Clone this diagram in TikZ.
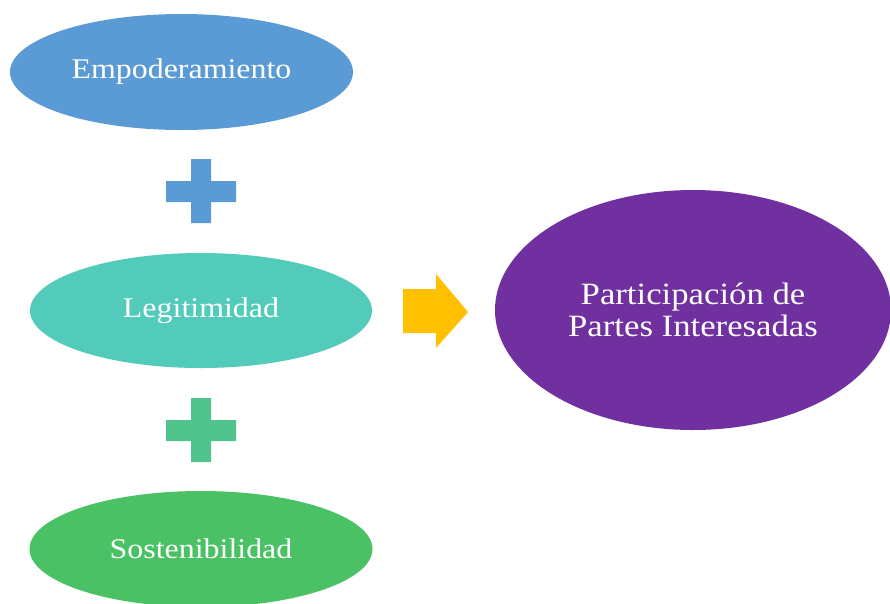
\documentclass[tikz,border=0pt]{standalone}
\usepackage{fontspec}
\setmainfont{Liberation Serif}[FakeStretch=1.12]
\usetikzlibrary{shapes.geometric,shapes.arrows}
\definecolor{cblue}{HTML}{5B9BD5}
\definecolor{cteal}{HTML}{52CBBA}
\definecolor{cgreen}{HTML}{49C164}
\definecolor{cplus}{HTML}{50C48C}
\definecolor{cpurple}{HTML}{7030A0}
\definecolor{cyellow}{HTML}{FFC000}
\tikzset{
  oval/.style={ellipse, draw=none, inner sep=0pt, text=white,
    font=\fontsize{28.5}{32}\selectfont},
  plusbar/.style={draw=none}
}
\begin{document}
\begin{tikzpicture}[x=1pt,y=-1pt]
\useasboundingbox (0,0) rectangle (890,603);
\clip (0,0) rectangle (890,603);
\node[oval, fill=cblue, minimum width=343pt, minimum height=116pt] (emp) at (181.5,72) {Empoderamiento};
\node[oval, fill=cteal, minimum width=342pt, minimum height=115pt] (leg) at (201,310.5) {Legitimidad};
\node[oval, fill=cgreen, minimum width=343pt, minimum height=116pt] (sos) at (201,549) {Sostenibilidad};
\node[oval, fill=cpurple, minimum width=396pt, minimum height=240pt, align=center,
  font=\fontsize{31}{32}\selectfont] (par) at (693,310) {Participación de\\Partes Interesadas};
% plus signs
\fill[cblue] (191,159) rectangle (211,223) (166,181) rectangle (236,202);
\fill[cplus] (191,398) rectangle (211,462) (166,420) rectangle (236,441);
% arrow
\fill[cyellow] (403,289) -- (436,289) -- (436,274) -- (468,312) -- (436,348) -- (436,333) -- (403,333) -- cycle;
\end{tikzpicture}
\end{document}
